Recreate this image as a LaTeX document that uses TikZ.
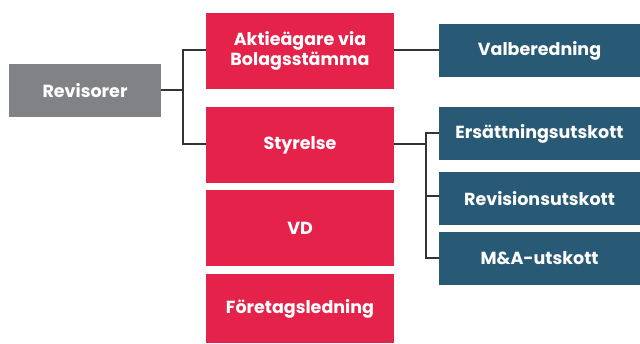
\documentclass[tikz,border=0pt]{standalone}
\usepackage{fontspec}
\setmainfont{Poppins}
\begin{document}
\begin{tikzpicture}[x=1pt,y=-1pt,
  box/.style={draw=none,inner sep=0pt,align=center,text=white,font=\fontsize{17.5}{19.5}\selectfont\bfseries},
  conn/.style={draw=black!80,line width=1.1pt}]
\definecolor{redc}{HTML}{E5234A}
\definecolor{grayc}{HTML}{818286}
\definecolor{bluec}{HTML}{285A75}
\useasboundingbox (0,0) rectangle (640,343);
% boxes
\node[box,fill=grayc,minimum width=152pt,minimum height=53pt] (rev) at (85,90.5) {Revisorer};
\node[box,fill=redc,minimum width=188pt,minimum height=76pt] (akt) at (300,51) {Aktieägare via\\Bolagsstämma};
\node[box,fill=redc,minimum width=188pt,minimum height=76pt] (sty) at (300,145) {Styrelse};
\node[box,fill=redc,minimum width=188pt,minimum height=76pt] (vd) at (300,228) {VD};
\node[box,fill=redc,minimum width=188pt,minimum height=69pt] (ftl) at (300,308.5) {Företagsledning};
\node[box,fill=bluec,minimum width=201pt,minimum height=53pt] (val) at (539.5,50.5) {Valberedning};
\node[box,fill=bluec,minimum width=201pt,minimum height=53pt] (ers) at (539.5,133.5) {Ersättningsutskott};
\node[box,fill=bluec,minimum width=201pt,minimum height=53pt] (rvu) at (539.5,198.5) {Revisionsutskott};
\node[box,fill=bluec,minimum width=201pt,minimum height=53pt] (mau) at (539.5,258.5) {M\&A-utskott};
% connectors
\coordinate (j1) at (183,90);
\draw[conn] (rev.east |- j1) -- (j1);
\draw[conn] (akt.west |- 0,50) -| (183,144) -- (sty.west |- 0,144);
\draw[conn] (akt.east |- 0,50) -- (val.west |- 0,50);
\draw[conn] (sty.east |- 0,144) -- (426,144);
\draw[conn] (ers.west |- 0,133) -| (426,258) -- (mau.west |- 0,258);
\draw[conn] (426,196) -- (rvu.west |- 0,196);
\end{tikzpicture}
\end{document}
